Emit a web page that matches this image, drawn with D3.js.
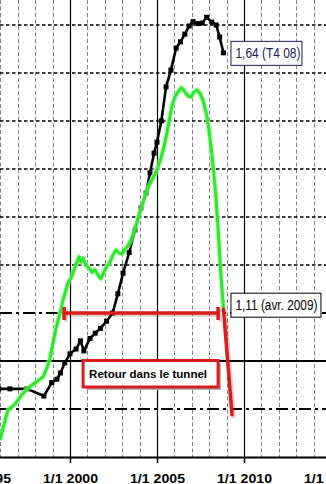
<!DOCTYPE html>
<html><head><meta charset="utf-8">
<script src="https://cdn.jsdelivr.net/npm/d3@7"></script>
<style>html,body{margin:0;padding:0;background:#fff;overflow:hidden}</style>
</head><body><div id="chart"></div>
<script>
// ---- data ----
const blackDates = [1995.9,1996.55,1997.53,1998.5,1998.95,1999.25,1999.45,1999.7,2000.0,2000.35,2000.6,2000.8,2001.15,2001.45,2001.75,2002.1,2002.45,2002.75,2003.05,2003.4,2003.74,2004.08,2004.37,2004.6,2004.83,2005.0,2005.25,2005.52,2005.8,2006.1,2006.35,2006.6,2006.85,2007.07,2007.35,2007.6,2007.85,2008.15,2008.4,2008.6,2008.82];
const blackValues = [0.942,0.942,0.942,0.927,0.955,0.962,0.975,0.996,1.015,1.025,1.042,1.021,1.047,1.058,1.068,1.083,1.1,1.14,1.183,1.226,1.273,1.319,1.35,1.392,1.433,1.456,1.5,1.571,1.606,1.652,1.665,1.681,1.698,1.707,1.703,1.704,1.716,1.706,1.70,1.675,1.642];
const greenDates = [1995.98,1996.2,1996.44,1996.84,1997.18,1997.53,1997.99,1998.45,1998.62,1998.74,1998.85,1999.02,1999.2,1999.43,1999.6,1999.77,1999.89,2000.06,2000.23,2000.4,2000.52,2000.63,2000.75,2000.92,2001.09,2001.26,2001.44,2001.61,2001.78,2001.95,2002.13,2002.3,2002.47,2002.64,2002.82,2002.99,2003.16,2003.33,2003.5,2003.68,2003.85,2004.02,2004.2,2004.37,2004.54,2004.71,2004.89,2005.06,2005.23,2005.4,2005.57,2005.75,2005.86,2006.03,2006.2,2006.38,2006.49,2006.61,2006.78,2006.95,2007.13,2007.3,2007.47,2007.64,2007.82,2007.99,2008.16,2008.33,2008.51,2008.62,2008.74,2008.82];
const greenValues = [0.835,0.867,0.898,0.91,0.927,0.942,0.954,0.967,0.981,0.992,1.006,1.037,1.069,1.1,1.127,1.148,1.163,1.173,1.19,1.206,1.217,1.206,1.215,1.2,1.194,1.185,1.19,1.179,1.171,1.185,1.198,1.206,1.221,1.231,1.225,1.223,1.233,1.24,1.252,1.269,1.29,1.31,1.331,1.35,1.365,1.377,1.39,1.404,1.423,1.446,1.475,1.51,1.531,1.55,1.56,1.569,1.567,1.56,1.552,1.55,1.56,1.565,1.558,1.544,1.519,1.481,1.429,1.367,1.277,1.21,1.148,1.108];
const tickYears = [1995, 2000, 2005, 2010, 2015];
const tickLabels = ["1/1 1995", "1/1 2000", "1/1 2005", "1/1 2010", "1/1 2015"];
const gridYears = [1996,1997,1998,1999,2001,2002,2003,2004,2006,2007,2008,2009,2011,2012,2013,2014];
const gridValues = [1.2, 1.3, 1.4, 1.5, 1.6, 1.7];
const tunnelBounds = [0.9, 1.1];
const tunnelCenter = [1.0];
const returnSpan = [1999.66, 2008.51];
const returnLevel = 1.1;
const dropDates = [2008.82, 2009.31];
const dropValues = [1.108, 0.888];
const lastLabel = "1,64 (T4 08)";
const greenLabel = "1,11 (avr. 2009)";
const noteLabel = "Retour dans le tunnel";

// ---- chart ----
const W = 326, H = 484, bottom = 457;
const svg = d3.select("#chart").append("svg").attr("width", W).attr("height", H)
  .style("font-family", "'Liberation Sans', Arial, sans-serif");
const x = d3.scaleLinear().domain([1995, 2015]).range([-17, 331]);
const y = d3.scaleLinear().domain([0.8, 1.8]).range([bottom, -23]);

svg.append("defs").append("clipPath").attr("id", "clip")
  .append("rect").attr("x", 0).attr("y", 0).attr("width", W).attr("height", bottom);
const g = svg.append("g").attr("clip-path", "url(#clip)");

// vertical gray dashed grid
g.selectAll(".vg").data(gridYears).join("line")
  .attr("x1", d => Math.round(x(d)) + 0.5).attr("x2", d => Math.round(x(d)) + 0.5)
  .attr("y1", 0).attr("y2", bottom)
  .attr("stroke", "#808080").attr("stroke-width", 1).attr("stroke-dasharray", "4,2.5");
// horizontal dashed grid
g.selectAll(".hg").data(gridValues).join("line")
  .attr("x1", 0).attr("x2", W)
  .attr("y1", d => y(d)).attr("y2", d => y(d))
  .attr("stroke", "#000").attr("stroke-width", 1.4).attr("stroke-dasharray", "3.5,2.5");
// solid verticals at major ticks
g.selectAll(".vs").data(tickYears).join("line")
  .attr("x1", d => Math.round(x(d)) + 0.5).attr("x2", d => Math.round(x(d)) + 0.5)
  .attr("y1", 0).attr("y2", bottom)
  .attr("stroke", "#000").attr("stroke-width", 1.2);
// tunnel bounds (dash-dot)
g.selectAll(".tb").data(tunnelBounds).join("line")
  .attr("x1", 0).attr("x2", W)
  .attr("y1", d => y(d)).attr("y2", d => y(d))
  .attr("stroke", "#000").attr("stroke-width", 2).attr("stroke-dasharray", "12,4,3,4");
// tunnel center
g.selectAll(".tc").data(tunnelCenter).join("line")
  .attr("x1", 0).attr("x2", W)
  .attr("y1", d => y(d)).attr("y2", d => y(d))
  .attr("stroke", "#000").attr("stroke-width", 2);

// black series
const blackData = blackDates.map((d, i) => [d, blackValues[i]]);
const greenData = greenDates.map((d, i) => [d, greenValues[i]]);
const line = d3.line().x(d => x(d[0])).y(d => y(d[1]));
g.append("path").attr("d", line(blackData)).attr("fill", "none")
  .attr("stroke", "#000").attr("stroke-width", 2.6).attr("stroke-linejoin", "round");
g.selectAll(".bm").data(blackData).join("rect")
  .attr("x", d => x(d[0]) - 2.5).attr("y", d => y(d[1]) - 2.5)
  .attr("width", 5).attr("height", 5).attr("fill", "#000");

// green series with halo
g.append("path").attr("d", line(greenData)).attr("fill", "none")
  .attr("stroke", "#9ff59a").attr("stroke-width", 5.5).attr("stroke-opacity", 0.6).attr("stroke-linejoin", "round");
g.append("path").attr("d", line(greenData)).attr("fill", "none")
  .attr("stroke", "#2ee62e").attr("stroke-width", 3).attr("stroke-linejoin", "round");

// red return bar (with shadow)
const red = "#d91c1c";
const rb = g.append("g");
[[2, 2, "rgba(150,40,40,0.25)"], [0, 0, red]].forEach(([dx, dy, c]) => {
  rb.append("line").attr("x1", x(returnSpan[0]) + dx).attr("x2", x(returnSpan[1]) + dx)
    .attr("y1", y(returnLevel) + dy).attr("y2", y(returnLevel) + dy)
    .attr("stroke", c).attr("stroke-width", 3.5);
  returnSpan.forEach(v => {
    rb.append("line").attr("x1", x(v) + dx).attr("x2", x(v) + dx)
      .attr("y1", y(returnLevel) - 6 + dy).attr("y2", y(returnLevel) + 7 + dy)
      .attr("stroke", c).attr("stroke-width", 3.5);
  });
  rb.append("line").attr("x1", x(dropDates[0]) + dx).attr("x2", x(dropDates[1]) + dx)
    .attr("y1", y(dropValues[0]) + dy).attr("y2", y(dropValues[1]) + dy)
    .attr("stroke", c).attr("stroke-width", 3.5).attr("stroke-linecap", "round");
});

// note box
const nx0 = x(returnSpan[0]) + 19, nx1 = x(returnSpan[1]);
const ny0 = y(1.0) - 0.5, ny1 = y(1.0) + 26;
svg.append("rect").attr("x", nx0 + 3).attr("y", ny0 + 3).attr("width", nx1 - nx0).attr("height", ny1 - ny0)
  .attr("fill", "#b0b0b0");
svg.append("rect").attr("x", nx0).attr("y", ny0).attr("width", nx1 - nx0).attr("height", ny1 - ny0)
  .attr("fill", "#fff").attr("stroke", red).attr("stroke-width", 3);
svg.append("text").attr("x", nx0 + 6).attr("y", ny0 + 17)
  .attr("font-size", "11.5px").attr("font-weight", "bold").attr("fill", "#000")
  .attr("textLength", 118).attr("lengthAdjust", "spacingAndGlyphs")
  .text(noteLabel);

// value labels
function valueLabel(text, x0, yc, w, tlen, color) {
  svg.append("rect").attr("x", x0 + 0.5).attr("y", yc - 12 + 0.5).attr("width", w).attr("height", 24)
    .attr("fill", "#fff").attr("stroke", color).attr("stroke-width", 1);
  svg.append("text").attr("x", x0 + 5).attr("y", yc + 5)
    .attr("font-size", "14px").attr("fill", color)
    .attr("textLength", tlen).attr("lengthAdjust", "spacingAndGlyphs")
    .text(text);
}
const lastB = blackData[blackData.length - 1];
valueLabel(lastLabel, x(lastB[0]) + 7, y(lastB[1]), 71, 65, "#1c1c5c");
valueLabel(greenLabel, x(greenDates[greenDates.length - 1]) + 7, y(1.11) - 3.5, 90, 82, "#000");

// x axis
const axis = d3.axisBottom(x).tickValues(tickYears).tickFormat((d, i) => tickLabels[i])
  .tickSize(6).tickSizeOuter(0);
const ag = svg.append("g").attr("transform", `translate(0,${bottom})`).call(axis);
ag.select(".domain").attr("stroke", "#000").attr("stroke-width", 2);
ag.selectAll(".tick line").attr("stroke", "#000").attr("stroke-width", 1.5);
ag.selectAll(".tick text").attr("dy", null).attr("y", 26)
  .attr("font-size", "13px").attr("font-weight", "bold").attr("fill", "#000")
  .attr("font-family", "'Liberation Sans', Arial, sans-serif")
  .attr("textLength", 55).attr("lengthAdjust", "spacingAndGlyphs");
</script>
</body></html>
